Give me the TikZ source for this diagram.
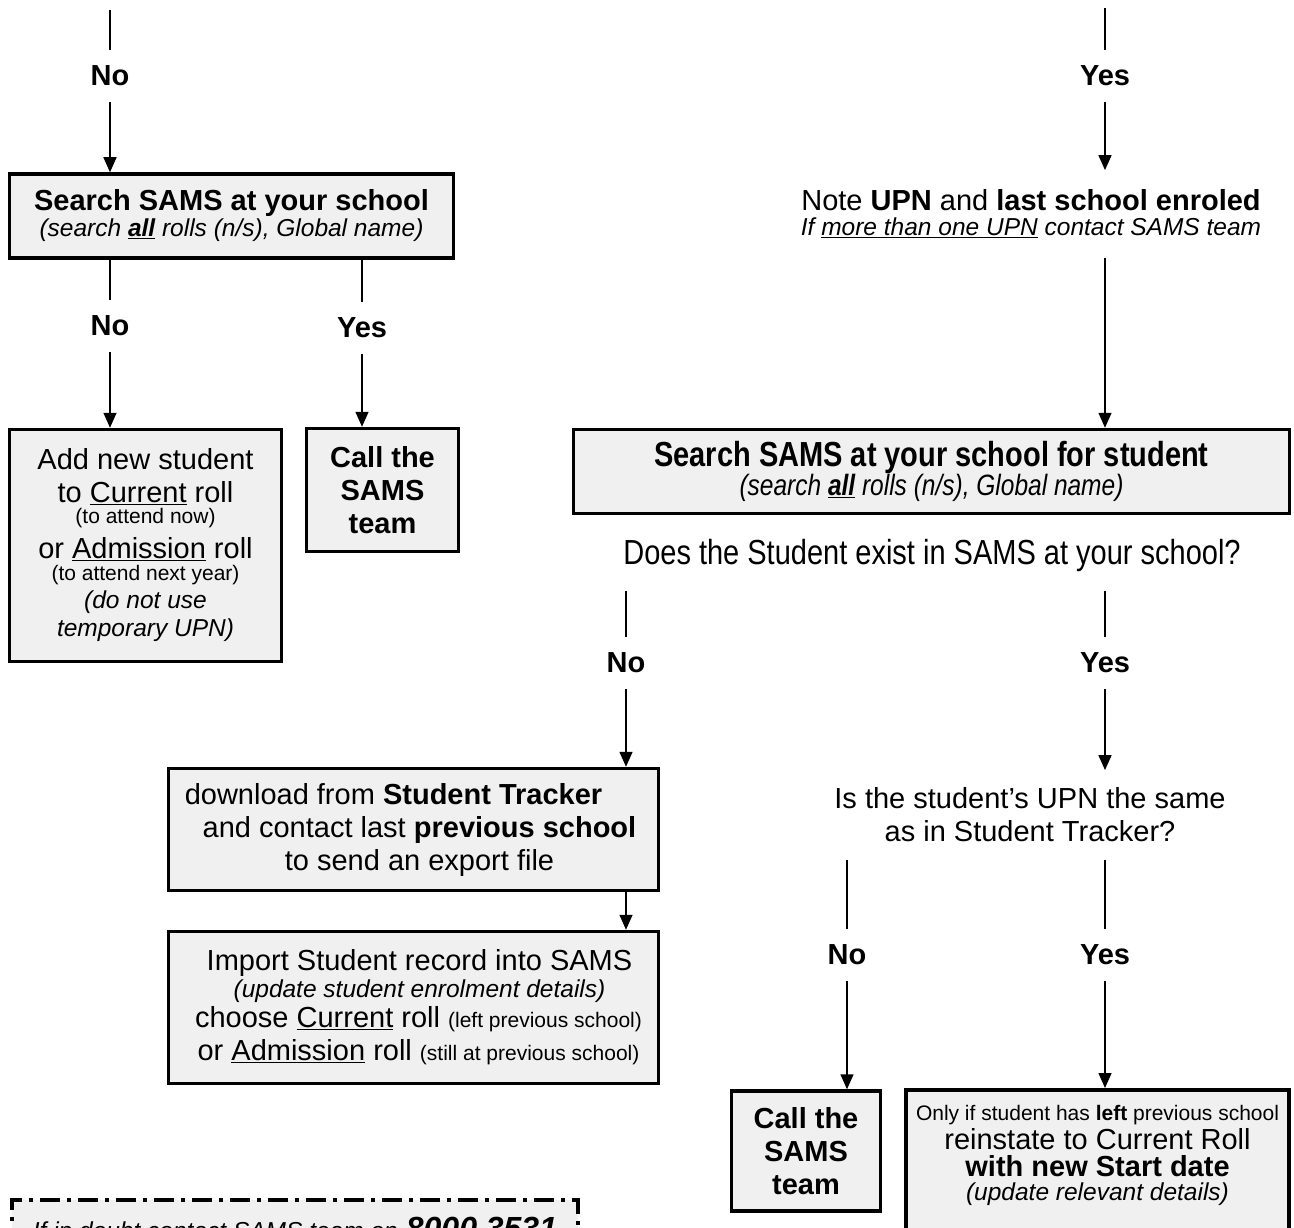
\documentclass[tikz,border=0pt]{standalone}
\usepackage{fontspec}
\setmainfont{Liberation Sans}
\usepackage{tikz}
\usetikzlibrary{arrows.meta}

\definecolor{boxfill}{RGB}{240,240,240}
\newcommand{\bigf}{\fontsize{29}{33}\selectfont}
\newcommand{\smf}[1]{{\fontsize{21}{24}\selectfont #1}}
\newcommand{\itf}[1]{{\fontsize{24.5}{28}\selectfont\itshape #1}}
\newcommand{\tall}[1]{\scalebox{1}[1.2]{#1}}

\begin{document}
\begin{tikzpicture}[x=1pt, y=-1pt, font=\bigf, line width=1.5pt,
		box/.style={draw, line width=3.5pt, fill=boxfill, align=center, inner sep=0pt},
		txt/.style={align=center, inner xsep=4pt, inner ysep=19pt},
		lbl/.style={font=\bigf\bfseries, minimum height=50pt, inner sep=0pt},
		doubtbox/.style={draw, line width=4pt, fill=boxfill, dash pattern=on 20pt off 7pt on 4pt off 7pt, inner sep=0pt},
		>={Triangle[length=15pt, width=13pt]}]
		
		\useasboundingbox (0,0) rectangle (1294,1228);
		\clip (0,0) rectangle (1294,1228);
		
		\coordinate (topl) at (110,10);
		\coordinate (topr) at (1105,8);
		
		\node[lbl] (n1) at (110,76) {No};
		\node[lbl] (y1) at (1105,76) {Yes};
		
		\node[box, minimum width=444pt, minimum height=84pt] (s1) at (231.5,216) {\textbf{Search SAMS at your school}\\[-7pt] \itf{(search \underline{\textbf{all}} rolls (n/s), Global name)}};
		\node[txt] (note) at (1031,214) {Note \textbf{UPN} and \textbf{last school enroled}\\[-8pt] \itf{If \underline{more than one UPN} contact SAMS team}};
		
		\node[lbl] (n2) at (110,326) {No};
		\node[lbl] (y2) at (362,328) {Yes};
		
		\node[box, minimum width=272pt, minimum height=232pt] (add) at (145.5,545.5) {Add new student\\ to \underline{Current} roll\\[-12pt] \smf{(to attend now)}\\[2pt] or \underline{Admission} roll\\[-11pt] \smf{(to attend next year)}\\[-5pt] \itf{(do not use}\\[-5pt] \itf{temporary UPN)}};
		\node[box, font=\bigf\bfseries, minimum width=152pt, minimum height=123pt] (call1) at (382.5,490) {Call the\\ SAMS\\ team};
		
		\node[box, minimum width=716pt, minimum height=84pt] (s2) at (931.5,471.5) {\tall{\textbf{Search SAMS at your school for student}}\\[-4pt] \tall{\itf{(search \underline{\textbf{all}} rolls (n/s), Global name)}}};
		\node[txt] (q1) at (932,555) {\tall{Does the Student exist in SAMS at your school?}};
		
		\node[lbl] (n3) at (626,663) {No};
		\node[lbl] (y3) at (1105,663) {Yes};
		
		\node[box, minimum width=490pt, minimum height=122pt] (dl) at (413.5,829.5) {download from \textbf{Student Tracker}\hspace*{40pt}\\ \hspace*{12pt}and contact last \textbf{previous school}\\ \hspace*{12pt}to send an export file};
		\node[box, minimum width=490pt, minimum height=152pt] (imp) at (413.5,1007.5) {\hspace*{12pt}Import Student record into SAMS\\[-6pt] \hspace*{12pt}\itf{(update student enrolment details)}\\[-3pt] \hspace*{10pt}choose \underline{Current} roll \smf{(left previous school)}\\ \hspace*{10pt}or \underline{Admission} roll \smf{(still at previous school)}};
		\node[txt, inner ysep=17pt] (q2) at (1030,815) {Is the student’s UPN the same\\ as in Student Tracker?};
		
		\node[lbl] (n4) at (847,955) {No};
		\node[lbl] (y4) at (1105,955) {Yes};
		
		\node[box, font=\bigf\bfseries, minimum width=149pt, minimum height=120pt] (call2) at (806,1151) {Call the\\ SAMS\\ team};
		\node[box, anchor=north, minimum width=383pt, minimum height=150pt] (only) at (1097.5,1088) {\smf{Only if student has \textbf{left} previous school}\\[-4pt] reinstate to Current Roll\\[-6pt] \textbf{with new Start date}\\[-9pt] \itf{(update relevant details)}\\[-10pt]\mbox{}};
		
		\node[doubtbox, anchor=north, minimum width=566pt, minimum height=56pt] (doubt) at (295,1198) {\itf{If in doubt contact SAMS team on} {\fontsize{32}{36}\selectfont\bfseries\itshape 8000 3531}};
		
		% Edges
		\draw (topl) -- (n1);
		\draw[->] (n1) -- (s1.north -| n1);
		\draw (s1.south -| n2) -- (n2);
		\draw[->] (n2) -- (add.north -| n2);
		\draw (s1.south -| y2) -- (y2);
		\draw[->] (y2) -- (call1.north -| y2);
		\draw (topr) -- (y1);
		\draw[->] (y1) -- (note.north -| y1);
		\draw[->] (note.south -| y1) -- (s2.north -| y1);
		\draw (q1.south -| n3) -- (n3);
		\draw[->] (n3) -- (dl.north -| n3);
		\draw (q1.south -| y3) -- (y3);
		\draw[->] (y3) -- (q2.north -| y3);
		\draw[->] (dl.south -| n3) -- (imp.north -| n3);
		\draw (q2.south -| n4) -- (n4);
		\draw[->] (n4) -- (call2.north -| n4);
		\draw (q2.south -| y4) -- (y4);
		\draw[->] (y4) -- (only.north -| y4);
		
\end{tikzpicture}
\end{document}
